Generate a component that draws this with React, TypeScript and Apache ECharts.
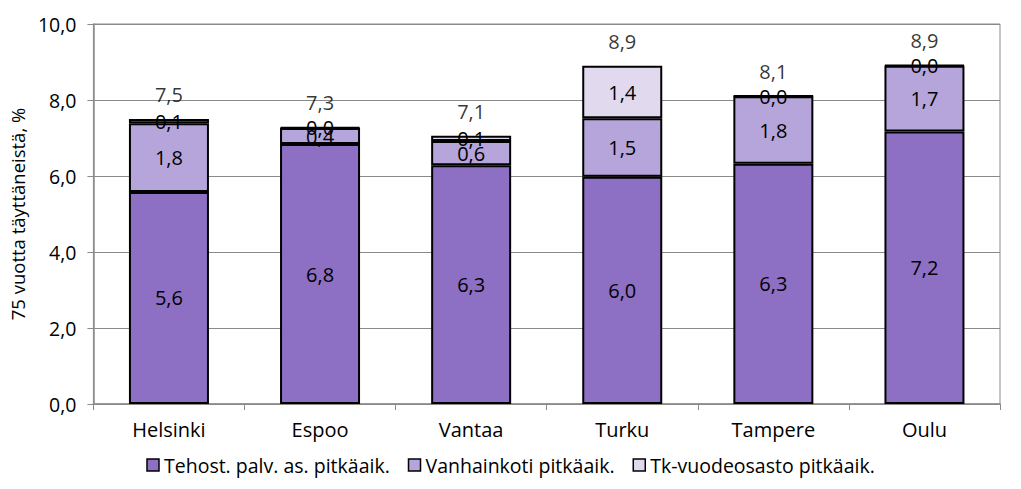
import React, { useEffect, useRef } from "react";
import * as echarts from "echarts";

const categories = ["Helsinki", "Espoo", "Vantaa", "Turku", "Tampere", "Oulu"];
const tehost = [5.58, 6.84, 6.28, 5.98, 6.32, 7.17];
const vanhainkoti = [1.81, 0.42, 0.64, 1.54, 1.78, 1.73];
const tkVuodeosasto = [0.11, 0.02, 0.14, 1.38, 0.01, 0.02];
const seriesNames = ["Tehost. palv. as. pitkäaik.", "Vanhainkoti pitkäaik.", "Tk-vuodeosasto pitkäaik."];
const colors = ["#8D6FC3", "#B5A5DA", "#E1DAEF"];

const fmt = (v: number) => v.toFixed(1).replace(".", ",");
const FONT = "'Open Sans', sans-serif";

export default function App() {
  const ref = useRef<HTMLDivElement>(null);
  useEffect(() => {
    if (!ref.current) return;
    const chart = echarts.init(ref.current, undefined, { renderer: "svg" });
    const totals = categories.map((_, i) => tehost[i] + vanhainkoti[i] + tkVuodeosasto[i]);
    const data = [tehost, vanhainkoti, tkVuodeosasto];
    const barSeries = data.map((d, k) => ({
      name: seriesNames[k],
      type: "bar",
      stack: "total",
      barWidth: 80,
      data: d,
      itemStyle: { color: colors[k], borderColor: "#000", borderWidth: 2 },
      label: {
        show: true,
        position: "inside",
        color: "#000",
        fontSize: 20,
        fontFamily: FONT,
        formatter: (p: any) => fmt(p.value),
      },
    }));
    chart.setOption({
      animation: false,
      textStyle: { fontFamily: FONT },
      grid: {
        left: 92,
        right: 21,
        top: 24,
        bottom: 85,
        show: true,
        borderColor: "#8a8a8a",
        borderWidth: 1,
      },
      legend: {
        bottom: 9,
        left: "center",
        data: seriesNames,
        icon: "rect",
        itemWidth: 12,
        itemHeight: 12,
        itemGap: 18,
        textStyle: { fontSize: 19.5, color: "#000", fontFamily: FONT },
        itemStyle: { borderColor: "#000", borderWidth: 1.5 },
      },
      xAxis: {
        type: "category",
        data: categories,
        axisLine: { lineStyle: { color: "#8a8a8a", width: 1.5 } },
        axisTick: { show: true, alignWithLabel: false, length: 6, lineStyle: { color: "#8a8a8a" } },
        axisLabel: { color: "#000", fontSize: 20, fontFamily: FONT, margin: 15 },
      },
      yAxis: {
        type: "value",
        min: 0,
        max: 10,
        interval: 2,
        name: "75 vuotta täyttäneistä, %",
        nameLocation: "middle",
        nameGap: 66,
        nameTextStyle: { fontSize: 18.5, color: "#000", fontFamily: FONT },
        axisLine: { show: true, lineStyle: { color: "#8a8a8a", width: 1.5 } },
        axisTick: { show: true, length: 6, lineStyle: { color: "#8a8a8a" } },
        axisLabel: { color: "#000", fontSize: 19.5, fontFamily: FONT, margin: 17, formatter: (v: number) => fmt(v) },
        splitLine: { lineStyle: { color: "#8a8a8a", width: 1 } },
      },
      series: [
        ...barSeries,
        {
          name: "Yhteensä",
          type: "scatter",
          data: totals,
          symbolSize: 1,
          itemStyle: { color: "rgba(0,0,0,0)" },
          label: {
            show: true,
            position: "top",
            distance: 14,
            color: "#000",
            fontSize: 20,
            fontFamily: FONT,
            formatter: (p: any) => fmt(p.value),
          },
          z: 5,
        },
      ],
    });
    return () => chart.dispose();
  }, []);
  return (
    <div
      ref={ref}
      style={{ position: "fixed", left: 0, top: 0, width: 1021, height: 489, background: "#fff" }}
    />
  );
}
